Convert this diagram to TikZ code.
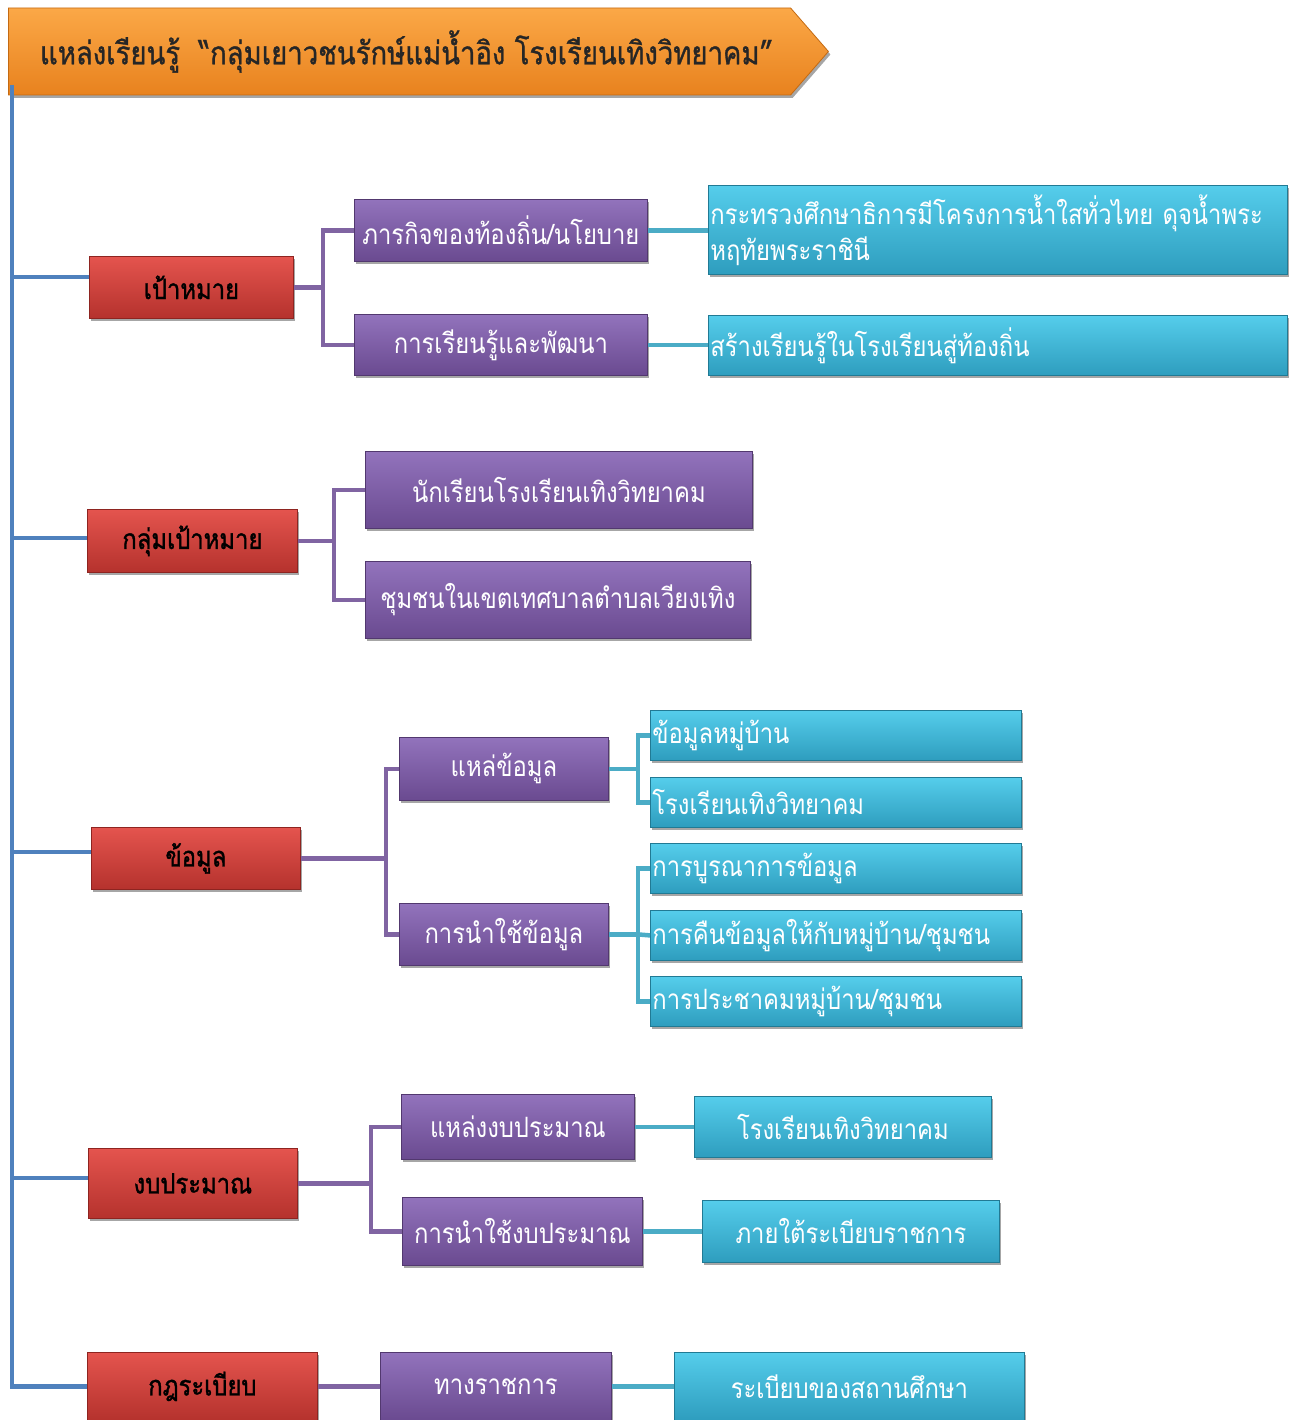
\documentclass[tikz,border=0pt]{standalone}
\usepackage{fontspec}
\newfontfamily\thai[Script=Thai,FakeStretch=0.85]{Loma}
\newfontfamily\thaib[Script=Thai,FakeStretch=0.85,FakeBold=1.2]{Loma}
\newfontfamily\thait[Script=Thai,FakeStretch=0.86,FakeBold=1]{Loma}
\usetikzlibrary{shadows,shapes.symbols}
\definecolor{redT}{HTML}{E4544E}
\definecolor{redB}{HTML}{B5322D}
\definecolor{redD}{HTML}{8E2420}
\definecolor{purT}{HTML}{9273BC}
\definecolor{purB}{HTML}{6A4A90}
\definecolor{purD}{HTML}{52386F}
\definecolor{cyaT}{HTML}{55CDEB}
\definecolor{cyaB}{HTML}{2E9DBE}
\definecolor{cyaD}{HTML}{217A94}
\definecolor{oraT}{HTML}{FBA847}
\definecolor{oraB}{HTML}{E8821E}
\definecolor{oraD}{HTML}{C46A12}
\definecolor{lblue}{HTML}{4F81BD}
\definecolor{lpur}{HTML}{8064A2}
\definecolor{lcya}{HTML}{4BACC6}
\tikzset{
  boxbase/.style={rectangle, inner xsep=2pt, inner ysep=2pt, anchor=north west,
    font=\thai\fontsize{28}{36}\selectfont, line width=0.8pt,
    drop shadow={shadow xshift=2pt, shadow yshift=-3pt, opacity=0.35, fill=black}},
  redbox/.style={boxbase, top color=redT, bottom color=redB, draw=redD, text=black,
    font=\thaib\fontsize{28}{36}\selectfont},
  purbox/.style={boxbase, top color=purT, bottom color=purB, draw=purD, text=white},
  cyabox/.style={boxbase, top color=cyaT, bottom color=cyaB, draw=cyaD, text=white},
  cyaleft/.style={cyabox, align=left, text width=#1},
  bline/.style={draw=lblue, line width=4.5pt},
  pline/.style={draw=lpur, line width=4.5pt},
  cline/.style={draw=lcya, line width=4.5pt},
  sz/.style n args={2}{minimum width=#1pt, minimum height=#2pt},
}
\begin{document}
\begin{tikzpicture}[x=1pt,y=-1pt]
\useasboundingbox (0,0) rectangle (1297,1420);
\clip (0,0) rectangle (1297,1420);

% header
\node[signal, signal to=east, signal pointer angle=98, minimum width=820pt, minimum height=87pt,
  anchor=west, top color=oraT, bottom color=oraB, draw=oraD, line width=0.8pt, text=black!85,
  font=\thait\fontsize{32}{36}\selectfont,
  drop shadow={shadow xshift=2pt, shadow yshift=-3pt, opacity=0.35, fill=black}]
  (title) at (8,51.5) {แหล่งเรียนรู้\ \ “กลุ่มเยาวชนรักษ์แม่น้ำอิง โรงเรียนเทิงวิทยาคม”\hspace*{-14pt}};

% level 1 (red)
\node[redbox, sz={204}{62}] (r1) at (89,256) {เป้าหมาย};
\node[redbox, sz={210}{63}] (r2) at (87,509) {กลุ่มเป้าหมาย};
\node[redbox, sz={209}{62}] (r3) at (91,827) {ข้อมูล};
\node[redbox, sz={209}{70}] (r4) at (88,1148) {งบประมาณ};
\node[redbox, sz={230}{68}] (r5) at (87,1352) {กฎระเบียบ};

% level 2 (purple)
\node[purbox, sz={293}{62}] (p11) at (354,199) {ภารกิจของท้องถิ่น/นโยบาย};
\node[purbox, sz={293}{61}] (p12) at (354,314) {การเรียนรู้และพัฒนา};
\node[purbox, sz={387}{77}] (p21) at (365,451) {นักเรียนโรงเรียนเทิงวิทยาคม};
\node[purbox, sz={385}{77}] (p22) at (365,561) {ชุมชนในเขตเทศบาลตำบลเวียงเทิง};
\node[purbox, sz={209}{63}] (p31) at (399,737) {แหล่ข้อมูล};
\node[purbox, sz={209}{62}] (p32) at (399,903) {การนำใช้ข้อมูล};
\node[purbox, sz={233}{65}] (p41) at (401,1094) {แหล่งงบประมาณ};
\node[purbox, sz={240}{68}] (p42) at (402,1197) {การนำใช้งบประมาณ};
\node[purbox, sz={231}{68}] (p51) at (380,1352) {ทางราชการ};

% level 3 (cyan)
\node[cyaleft=575pt, sz={579}{89}] (c11) at (708,185) {กระทรวงศึกษาธิการมีโครงการน้ำใสทั่วไทย ดุจน้ำพระ\\หฤทัยพระราชินี};
\node[cyaleft=575pt, sz={579}{60}] (c12) at (708,315) {สร้างเรียนรู้ในโรงเรียนสู่ท้องถิ่น};
\node[cyaleft=367pt, sz={371}{50}] (c31) at (650,710) {ข้อมูลหมู่บ้าน};
\node[cyaleft=367pt, sz={371}{50}] (c32) at (650,777) {โรงเรียนเทิงวิทยาคม};
\node[cyaleft=367pt, sz={371}{50}] (c33) at (650,843) {การบูรณาการข้อมูล};
\node[cyaleft=367pt, sz={371}{50}] (c34) at (650,910) {การคืนข้อมูลให้กับหมู่บ้าน/ชุมชน};
\node[cyaleft=367pt, sz={371}{50}] (c35) at (650,976) {การประชาคมหมู่บ้าน/ชุมชน};
\node[cyabox, sz={297}{61}] (c41) at (694,1096) {โรงเรียนเทิงวิทยาคม};
\node[cyabox, sz={297}{62}] (c42) at (702,1200) {ภายใต้ระเบียบราชการ};
\node[cyabox, sz={350}{68}] (c51) at (674,1352) {ระเบียบของสถานศึกษา};

% main blue trunk
\coordinate (top) at (12,85);
\draw[bline] (top) |- (r5.west);
\coordinate (m1) at (12,277);
\coordinate (m2) at (12,538);
\coordinate (m3) at (12,852);
\coordinate (m4) at (12,1178);
\draw[bline] (m1) -- (m1 -| r1.west);
\draw[bline] (m2) -- (m2 -| r2.west);
\draw[bline] (m3) -- (m3 -| r3.west);
\draw[bline] (m4) -- (m4 -| r4.west);

% purple connectors
\draw[pline] (r1.east) -- ++(29,0) coordinate (j1);
\draw[pline] (p11.west) -| (j1) |- (p12.west);
\draw[pline] (r2.east) -- ++(36,0) coordinate (j2);
\draw[pline] (p21.west) -| (j2) |- (p22.west);
\draw[pline] (r3.east) -- ++(85,0) coordinate (j3);
\draw[pline] (p31.west) -| (j3) |- (p32.west);
\draw[pline] (r4.east) -- ++(73,0) coordinate (j4);
\draw[pline] (p41.west) -| (j4) |- (p42.west);
\draw[pline] (r5.east) -- (p51.west);

% cyan connectors
\draw[cline] (p11.east) -- (c11.west |- p11.east);
\draw[cline] (p12.east) -- (c12.west |- p12.east);
\draw[cline] (p31.east) -- ++(29,0) coordinate (k1);
\draw[cline] (c31.west) -| (k1) |- (c32.west);
\draw[cline] (p32.east) -- ++(29,0) coordinate (k2);
\draw[cline] (c33.west) -| (k2) |- (c35.west);
\draw[cline] (k2) -- (c34.west);
\draw[cline] (p41.east) -- (c41.west);
\draw[cline] (p42.east) -- (c42.west);
\draw[cline] (p51.east) -- (c51.west);
\end{tikzpicture}
\end{document}
